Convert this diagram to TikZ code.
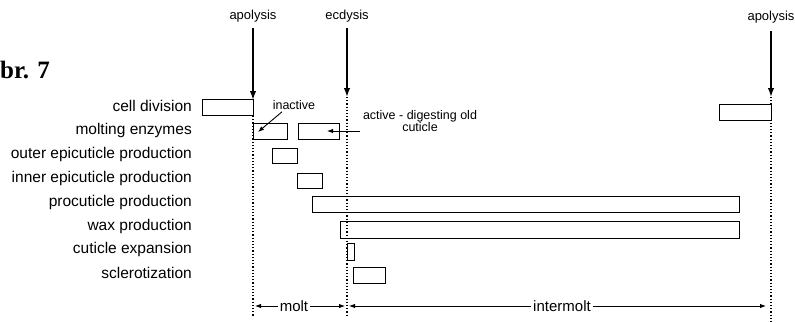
\documentclass[tikz,border=0pt]{standalone}
\usepackage{fontspec}
\setmainfont{Liberation Sans}
\newfontfamily\serifbold{Liberation Serif}
\usetikzlibrary{arrows.meta}
\begin{document}
\begin{tikzpicture}[x=1pt,y=-1pt,
  lbl/.style={anchor=east, inner sep=0pt, font=\fontsize{15.5}{17}\selectfont},
  ev/.style={inner sep=0pt, font=\fontsize{13}{15}\selectfont},
  note/.style={inner sep=0pt, font=\fontsize{12.5}{12}\selectfont, align=center},
  period/.style={inner sep=2pt, font=\fontsize{15}{17}\selectfont},
  bar/.style={draw, line width=1.1pt, fill=white, inner sep=0pt, anchor=north west},
  bigarrow/.style={line width=1.6pt, -{Latex[length=9pt,width=6.5pt]}},
  thinarrow/.style={line width=0.9pt, -{Latex[length=6pt,width=4.5pt]}},
  vdot/.style={line width=1.2pt, dotted}]
\useasboundingbox (0,0) rectangle (795,322);
% figure label
\node[anchor=base west, inner sep=0pt, font=\serifbold\bfseries\fontsize{25}{28}\selectfont] (fig) at (0,78) {br. 7};
% events
\node[ev] (apo1) at (253,16) {apolysis};
\node[ev] (ecd) at (347,16) {ecdysis};
\node[ev] (apo2) at (771,17) {apolysis};
\coordinate (t1) at (253,100);
\coordinate (t2) at (347,97);
\coordinate (t3) at (771,97);
\coordinate (b1) at (253,316);
\coordinate (b2) at (347,316);
\coordinate (b3) at (771,322);
\draw[bigarrow] ([yshift=-6pt]apo1.south) -- (t1);
\draw[bigarrow] ([yshift=-6pt]ecd.south) -- (t2);
\draw[bigarrow] ([yshift=-8pt]apo2.south) -- (t3);
\draw[vdot] (t1) -- (b1);
\draw[vdot] (t2) -- (b2);
\draw[vdot] (t3) -- (b3);
% row labels
\node[lbl] (l1) at (192,106) {cell division};
\node[lbl] (l2) at (192,130) {molting enzymes};
\node[lbl] (l3) at (192,154) {outer epicuticle production};
\node[lbl] (l4) at (192,178) {inner epicuticle production};
\node[lbl] (l5) at (192,202) {procuticle production};
\node[lbl] (l6) at (192,226) {wax production};
\node[lbl] (l7) at (192,249) {cuticle expansion};
\node[lbl] (l8) at (192,273) {sclerotization};
% bars
\node[bar, minimum width=51pt, minimum height=16pt] (cd1) at (202,99) {};
\node[bar, minimum width=52pt, minimum height=16pt] (cd2) at (719,104) {};
\node[bar, minimum width=34pt, minimum height=16pt] (me1) at (253,123) {};
\node[bar, minimum width=41pt, minimum height=16pt] (me2) at (298,123) {};
\node[bar, minimum width=25pt, minimum height=15pt] (oe) at (272,148) {};
\node[bar, minimum width=25pt, minimum height=15pt] (ie) at (297,173) {};
\node[bar, minimum width=427pt, minimum height=16pt] (pc) at (312,196) {};
\node[bar, minimum width=399pt, minimum height=17pt] (wx) at (340,221) {};
\node[bar, minimum width=7pt, minimum height=17pt] (ce) at (347,243) {};
\node[bar, minimum width=32pt, minimum height=16pt] (sc) at (353,267) {};
% redraw dotted line over bars where it crosses them
\draw[vdot] (t2) -- (b2);
% annotations
\node[note] (inact) at (294,105) {inactive};
\coordinate (inacttip) at (258,132);
\draw[thinarrow] ([xshift=-12pt,yshift=-2pt]inact.south) -- (inacttip);
\node[note, anchor=north] (act) at (420,110) {active - digesting old\\cuticle};
\coordinate (actstart) at (360,131);
\coordinate (acttip) at (327,131);
\draw[thinarrow] (actstart) -- (acttip);
% periods
\node[period] (molt) at (294,306) {molt};
\node[period] (inter) at (562,306) {intermolt};
\draw[thinarrow] (molt.west) -- ([xshift=2pt]b1 |- molt);
\draw[thinarrow] (molt.east) -- ([xshift=-2pt]b2 |- molt);
\draw[thinarrow] (inter.west) -- ([xshift=2pt]b2 |- inter);
\draw[thinarrow] (inter.east) -- ([xshift=-5pt]b3 |- inter);
\end{tikzpicture}
\end{document}
